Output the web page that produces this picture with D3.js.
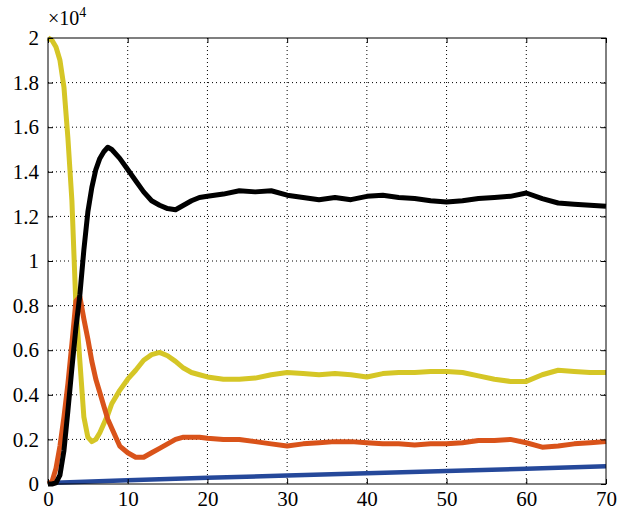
<!DOCTYPE html>
<html>
<head>
<meta charset="utf-8">
<script src="https://cdn.jsdelivr.net/npm/d3@7"></script>
<style>
  body { margin: 0; background: #fff; }
</style>
</head>
<body>
<div id="chart"></div>
<script>
const serif = "'Liberation Serif', 'Times New Roman', Times, 'DejaVu Serif', serif";

// time points (same grid for the three epidemic curves)
const times = [0, 0.5, 1, 1.5, 2, 2.5, 3, 3.5, 4, 4.5, 5, 5.5, 6, 6.5, 7, 7.5, 8, 9, 10, 11, 12, 13, 14, 15, 16, 17, 18, 19, 20,
  22, 24, 26, 28, 30, 32, 34, 36, 38, 40, 42, 44, 46, 48, 50, 52, 54, 56, 58, 60, 62, 64, 66, 68, 70];

// counts
const yellowVals = [20000, 19900, 19600, 19000, 17800, 15500, 12700, 8000, 5500, 3000, 2100, 1900, 2000, 2300, 2700, 3100, 3600, 4200, 4700, 5100, 5550, 5800, 5900, 5750, 5500, 5200, 5000, 4900, 4800,
  4700, 4700, 4750, 4900, 5000, 4950, 4900, 4950, 4900, 4800, 4950, 5000, 5000, 5050, 5050, 5000, 4850, 4700, 4600, 4600, 4900, 5100, 5050, 5000, 5000];
const orangeVals = [0, 100, 700, 1700, 3000, 4500, 6300, 8200, 8400, 7400, 6500, 5500, 4700, 4100, 3500, 2900, 2500, 1700, 1400, 1200, 1200, 1400, 1600, 1800, 2000, 2100, 2100, 2100, 2050,
  2000, 2000, 1900, 1800, 1700, 1800, 1850, 1900, 1900, 1850, 1800, 1800, 1750, 1800, 1800, 1850, 1950, 1950, 2000, 1850, 1650, 1700, 1800, 1850, 1900];
const blackVals = [0, 0, 50, 400, 1500, 3300, 5200, 7000, 8500, 10500, 12200, 13300, 14100, 14600, 14900, 15100, 15000, 14600, 14100, 13600, 13100, 12700, 12500, 12350, 12300, 12500, 12700, 12850, 12900,
  13000, 13150, 13100, 13150, 12950, 12850, 12750, 12850, 12750, 12900, 12950, 12850, 12800, 12700, 12650, 12700, 12800, 12850, 12900, 13050, 12800, 12600, 12550, 12500, 12450];

// slow straight-ish growth
const blueTimes = [0, 10, 20, 30, 40, 50, 60, 70];
const blueVals = [50, 170, 280, 380, 480, 580, 680, 800];

const xTicks = [0, 10, 20, 30, 40, 50, 60, 70];
const yTicks = [0, 2000, 4000, 6000, 8000, 10000, 12000, 14000, 16000, 18000, 20000];

const margin = {top: 38, right: 19, bottom: 28, left: 48},
    width = 625 - margin.left - margin.right,
    height = 512 - margin.top - margin.bottom;

const svg = d3.select("#chart")
  .append("svg")
    .attr("width", 625)
    .attr("height", 512)
  .append("g")
    .attr("transform", `translate(${margin.left}, ${margin.top})`);

const x = d3.scaleLinear().domain([0, 70]).range([0, width]);
const y = d3.scaleLinear().domain([0, 20000]).range([height, 0]);

// dotted grid
svg.append("g")
  .selectAll("line")
  .data(xTicks.slice(1, -1))
  .enter().append("line")
    .attr("x1", d => x(d)).attr("x2", d => x(d))
    .attr("y1", 0).attr("y2", height)
    .attr("stroke", "#000").attr("stroke-width", 1)
    .attr("stroke-dasharray", "1,3");
svg.append("g")
  .selectAll("line")
  .data(yTicks.slice(1, -1))
  .enter().append("line")
    .attr("y1", d => y(d)).attr("y2", d => y(d))
    .attr("x1", 0).attr("x2", width)
    .attr("stroke", "#000").attr("stroke-width", 1)
    .attr("stroke-dasharray", "1,3");

// lines
const line = d3.line()
  .x(d => x(d[0]))
  .y(d => y(d[1]));

const series = [
  {vals: d3.zip(blueTimes, blueVals), color: "#25489a", w: 4.5},
  {vals: d3.zip(times, yellowVals), color: "#d5c626", w: 5},
  {vals: d3.zip(times, orangeVals), color: "#d9531a", w: 5},
  {vals: d3.zip(times, blackVals), color: "#000000", w: 5}
];

svg.selectAll(".series")
  .data(series)
  .enter().append("path")
    .attr("class", "series")
    .attr("d", d => line(d.vals))
    .attr("fill", "none")
    .attr("stroke", d => d.color)
    .attr("stroke-width", d => d.w)
    .attr("stroke-linejoin", "round");

// axes with inward ticks on all sides
const fmtY = d => d3.format("~g")(d / 10000);

const xAxis = svg.append("g")
  .attr("transform", `translate(0, ${height})`)
  .call(d3.axisBottom(x).tickValues(xTicks).tickSizeInner(-5).tickSizeOuter(0).tickPadding(7));
const yAxis = svg.append("g")
  .call(d3.axisLeft(y).tickValues(yTicks).tickFormat(fmtY).tickSizeInner(-5).tickSizeOuter(0).tickPadding(9));
const xTop = svg.append("g")
  .call(d3.axisTop(x).tickValues(xTicks).tickSizeInner(-5).tickSizeOuter(0).tickFormat(""));
const yRight = svg.append("g")
  .attr("transform", `translate(${width}, 0)`)
  .call(d3.axisRight(y).tickValues(yTicks).tickSizeInner(-5).tickSizeOuter(0).tickFormat(""));

[xAxis, yAxis, xTop, yRight].forEach(g => {
  g.attr("font-family", serif).attr("font-size", 21);
  g.select(".domain").remove();
  g.selectAll("line").attr("stroke", "#000");
  g.selectAll("text").attr("fill", "#000");
});
xAxis.selectAll("text").attr("dy", "0.71em");

svg.append("rect")
  .attr("width", width).attr("height", height)
  .attr("fill", "none").attr("stroke", "#000").attr("stroke-width", 1);

// exponent label
const expo = svg.append("text")
  .attr("x", 0).attr("y", -13)
  .attr("font-family", serif)
  .attr("font-size", 20);
expo.append("tspan").text("\u00d710");
expo.append("tspan").attr("dy", -8).attr("font-size", 14).text("4");
</script>
</body>
</html>
